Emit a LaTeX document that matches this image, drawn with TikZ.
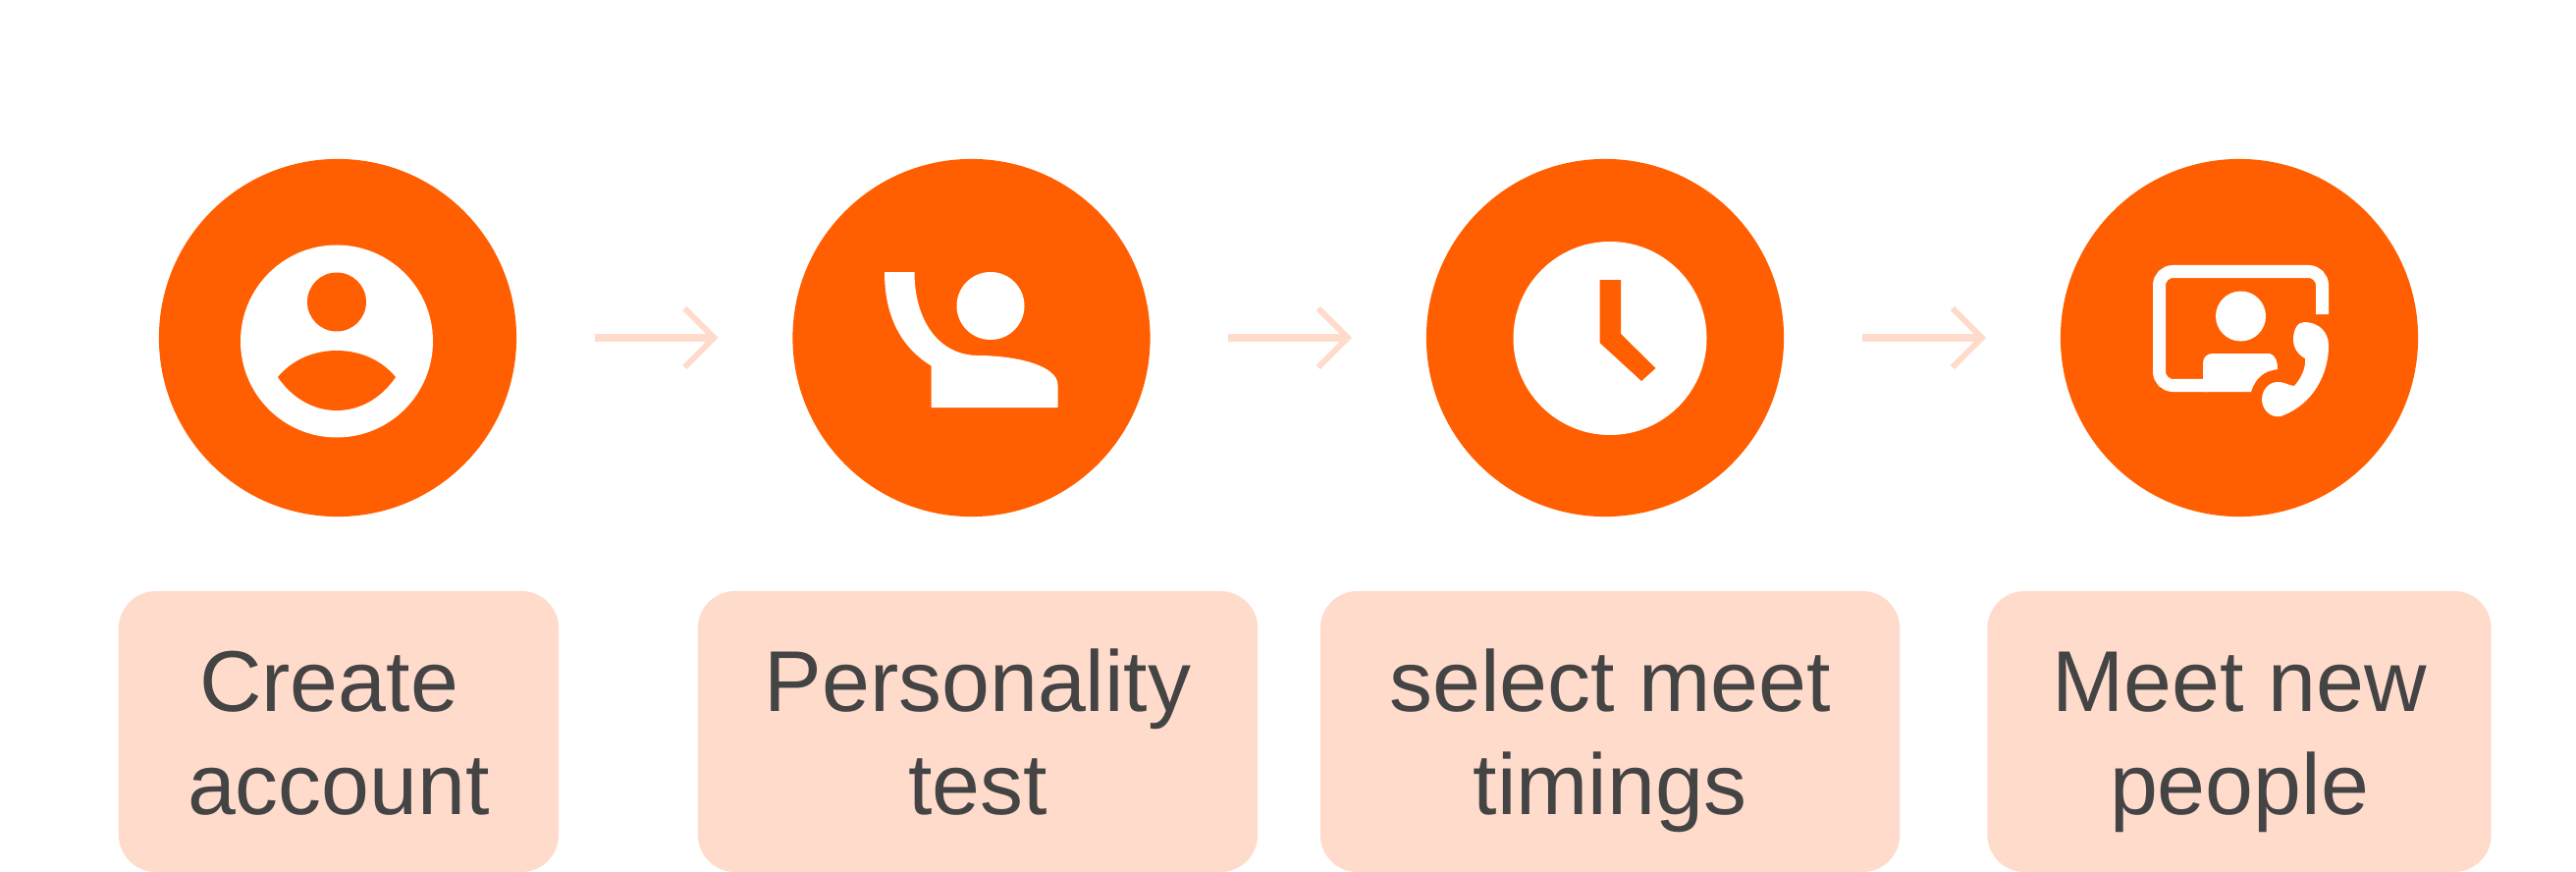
\documentclass[tikz,border=0pt]{standalone}
\usepackage{fontspec}
\setmainfont{Liberation Sans}
\usetikzlibrary{arrows.meta}
\definecolor{stepfill}{HTML}{FF5F00}
\definecolor{boxfill}{HTML}{FFDBCC}
\definecolor{boxtext}{HTML}{444444}
\newcommand{\steplabel}[2]{\rule{0pt}{0.89cm}#1\\#2\rule[-0.25cm]{0pt}{0.25cm}}
\tikzset{
  stepcircle/.style={circle,fill=stepfill,minimum size=3.64cm,inner sep=0pt},
  labelbox/.style={rectangle,fill=boxfill,rounded corners=0.38cm,minimum height=2.86cm,
    inner sep=0pt,align=center,text=boxtext,font=\fontsize{25}{29.6}\selectfont},
  flow/.style={draw=boxfill,line width=0.07cm,shorten <=0.79cm,shorten >=0.75cm,
    -{Straight Barb[length=0.3cm,width=0.6cm,line width=0.06cm]}},
  iconwhite/.style={fill=white,draw=none},
  iconorange/.style={fill=stepfill,draw=none}
}
\begin{document}
\begin{tikzpicture}[x=0.01cm,y=-0.01cm]
  \useasboundingbox (0,0) rectangle (2624,888);
  \node[stepcircle] (step1) at (344,344) {};
  \node[stepcircle] (step2) at (989.5,344) {};
  \node[stepcircle] (step3) at (1635,344) {};
  \node[stepcircle] (step4) at (2281,344) {};
  \node[labelbox,minimum width=4.48cm] (box1) at (345,745) {\steplabel{Create\hspace*{0.2cm}}{account}};
  \node[labelbox,minimum width=5.70cm] (box2) at (996,745) {\steplabel{Personality}{test}};
  \node[labelbox,minimum width=5.90cm] (box3) at (1640,745) {\steplabel{select meet}{timings}};
  \node[labelbox,minimum width=5.13cm] (box4) at (2281,745) {\steplabel{Meet new}{people}};
  \begin{scope}
    \draw[flow] (step1) -- (step2);
    \draw[flow] (step2) -- (step3);
    \draw[flow] (step3) -- (step4);
  \end{scope}
  % account icon
  \fill[iconwhite] (343,347.5) circle (98);
  \fill[iconorange] (343,307.5) circle (30);
  \fill[iconorange] (283,384) .. controls (298,366) and (320,357) .. (343,357)
    .. controls (366,357) and (388,366) .. (403,384)
    .. controls (388,406) and (366,418) .. (343,418)
    .. controls (320,418) and (298,406) .. (283,384) -- cycle;
  % test icon
  \fill[iconwhite] (1009,311.5) circle (34.5);
  \fill[iconwhite] (901,277) -- (931.5,277) .. controls (931.5,325) and (955,361) .. (995,362)
    .. controls (1035,362) and (1077.5,372) .. (1077.5,392) -- (1077.5,415) -- (948.5,415)
    -- (948.5,372.5) .. controls (920,355) and (901,325) .. (901,277) -- cycle;
  % clock icon
  \fill[iconwhite] (1640,344.5) circle (98.5);
  \fill[iconorange] (1629.5,285) -- (1651,285) -- (1651,340) -- (1686.5,375) -- (1672,388)
    -- (1629.5,349) -- cycle;
  % video call icon
  \draw[white,line width=0.13cm,rounded corners=0.14cm] (2365.5,320) -- (2365.5,276.5)
    -- (2199.5,276.5) -- (2199.5,392.5) -- (2250,392.5);
  \fill[iconwhite] (2282.5,322) circle (25.5);
  \fill[iconwhite] (2244,399) -- (2244,370) .. controls (2244,364) and (2248,360) .. (2254,360)
    -- (2312,360) .. controls (2318,362) and (2320,368) .. (2320,376)
    .. controls (2306,378) and (2298,384) .. (2293,399) -- cycle;
  \fill[iconwhite] (2347,328) .. controls (2362,328) and (2372,338) .. (2372,352)
    .. controls (2372,380) and (2357,412) .. (2323,424)
    .. controls (2312,426) and (2304,416) .. (2304,407)
    .. controls (2304,396) and (2312,389) .. (2320,389)
    .. controls (2328,389) and (2332,393) .. (2337,393)
    .. controls (2344,385) and (2349,375) .. (2348,365)
    .. controls (2342,362) and (2336,355) .. (2336,346)
    .. controls (2336,336) and (2340,328) .. (2347,328) -- cycle;
\end{tikzpicture}
\end{document}
